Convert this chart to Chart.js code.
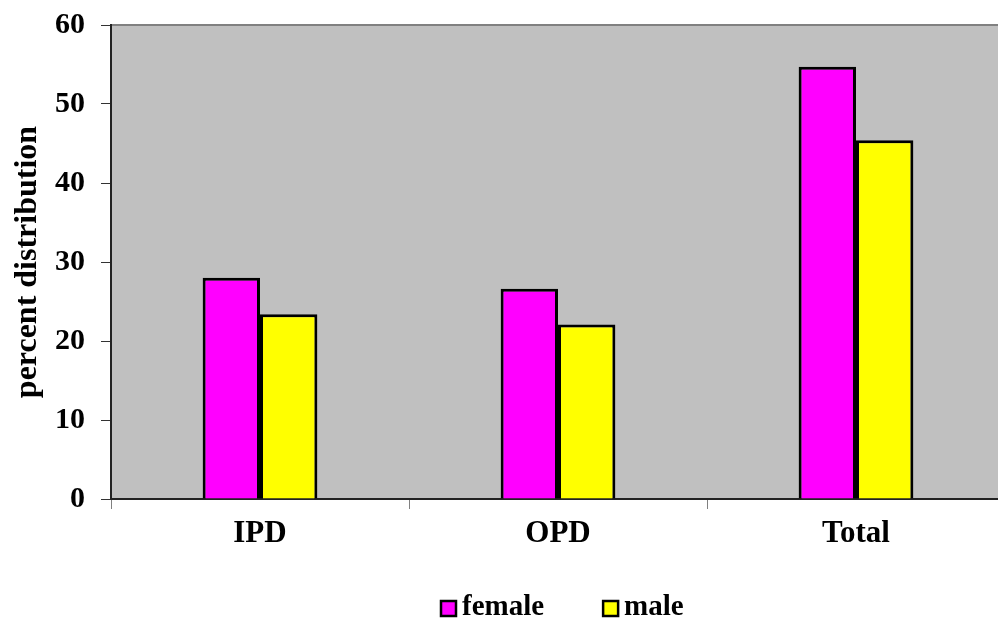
<!DOCTYPE html>
<html>
<head>
<meta charset="utf-8">
<script src="https://cdn.jsdelivr.net/npm/chart.js@4/dist/chart.umd.min.js"></script>
<style>
  html, body { margin: 0; padding: 0; background: #fff; overflow: hidden; }
  #wrap { width: 1006px; height: 621px; }
</style>
</head>
<body>
<div id="wrap"><canvas id="c" width="1006" height="621"></canvas></div>
<script>
// données
const categories = ['IPD', 'OPD', 'Total'];
const female = [28.0, 26.6, 54.7];
const male = [23.4, 22.1, 45.4];
const yTicks = [0, 10, 20, 30, 40, 50, 60];

const FONT = '"Liberation Serif", "Times New Roman", serif';

// fond gris de la zone de tracé + bord supérieur
const plotBg = {
  id: 'plotBg',
  beforeDraw(chart) {
    const { ctx, chartArea: a } = chart;
    ctx.save();
    ctx.fillStyle = '#c0c0c0';
    ctx.fillRect(a.left, a.top, a.right - a.left, a.bottom - a.top);
    ctx.strokeStyle = '#808080';
    ctx.lineWidth = 2;
    ctx.beginPath();
    ctx.moveTo(a.left, a.top);
    ctx.lineTo(a.right, a.top);
    ctx.stroke();
    ctx.restore();
  }
};

// légende dessinée à la main (décalée comme dans l'original)
const bottomLegend = {
  id: 'bottomLegend',
  afterDraw(chart) {
    const { ctx } = chart;
    const items = chart.data.datasets.map(d => ({ label: d.label, color: d.backgroundColor }));
    ctx.save();
    ctx.font = 'bold 29px ' + FONT;
    ctx.textBaseline = 'middle';
    let x = 441;
    const y = 608;
    items.forEach(it => {
      ctx.fillStyle = it.color;
      ctx.fillRect(x, y - 7, 15, 15);
      ctx.strokeStyle = '#000';
      ctx.lineWidth = 2.5;
      ctx.strokeRect(x, y - 7, 15, 15);
      ctx.fillStyle = '#000';
      ctx.fillText(it.label, x + 21, y);
      x += 21 + ctx.measureText(it.label).width + 59;
    });
    ctx.restore();
  }
};

new Chart(document.getElementById('c'), {
  type: 'bar',
  data: {
    labels: categories,
    datasets: [
      { label: 'female', data: female, backgroundColor: '#ff00ff', borderColor: '#000', borderWidth: 3 },
      { label: 'male', data: male, backgroundColor: '#ffff00', borderColor: '#000', borderWidth: 3 },
    ],
  },
  options: {
    responsive: false,
    animation: false,
    layout: { padding: { top: 23, right: 1, left: 0, bottom: 0 } },
    categoryPercentage: 0.385,
    barPercentage: 1,
    plugins: { legend: { display: false }, tooltip: { enabled: false } },
    scales: {
      x: {
        afterFit: s => { s.height = 122; },
        grid: { offset: true, drawOnChartArea: false, color: '#808080', tickLength: 10 },
        border: { color: '#222', width: 2 },
        ticks: { color: '#000', padding: 6, font: { family: FONT, size: 31, weight: 'bold' } },
      },
      y: {
        min: 0,
        max: 60,
        afterFit: s => { s.width = 111; },
        afterBuildTicks: s => { s.ticks = yTicks.map(v => ({ value: v })); },
        grid: { drawOnChartArea: false, color: '#333', tickLength: 10 },
        border: { color: '#222', width: 2 },
        ticks: { color: '#000', padding: 16, font: { family: FONT, size: 30, weight: 'bold', lineHeight: 0.6 } },
        title: {
          display: true,
          text: 'percent distribution',
          color: '#000',
          padding: { top: 9, bottom: 0 },
          font: { family: FONT, size: 32, weight: 'bold' },
        },
      },
    },
  },
  plugins: [plotBg, bottomLegend],
});
</script>
</body>
</html>
